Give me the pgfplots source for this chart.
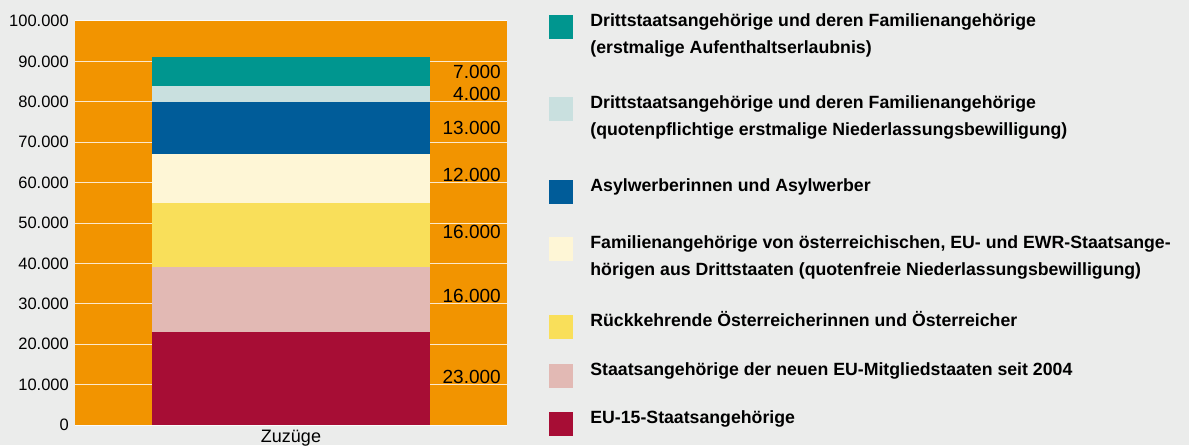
\documentclass[border=0pt]{standalone}
\usepackage{pgfplots}
\pgfplotsset{compat=1.18}
\usepackage{fontspec}
\setmainfont{Liberation Sans}
\definecolor{bgc}{RGB}{235,236,235}
\definecolor{orc}{RGB}{242,148,0}
\definecolor{c1}{RGB}{167,13,53}
\definecolor{c2}{RGB}{226,185,180}
\definecolor{c3}{RGB}{249,223,90}
\definecolor{c4}{RGB}{254,246,214}
\definecolor{c5}{RGB}{0,92,153}
\definecolor{c6}{RGB}{201,224,223}
\definecolor{c7}{RGB}{0,150,143}
\newcommand{\LE}[2]{\parbox[t]{600pt}{\raggedright\rule{0pt}{20pt}#2\rule[-#1pt]{0pt}{#1pt}}}
\begin{document}
\begin{tikzpicture}
\fill[bgc] (-75pt,-20pt) rectangle (1114pt,425pt);
\useasboundingbox (-75pt,-20pt) rectangle (1114pt,425pt);
\pgfplotsset{
  base/.style={width=432pt,height=404pt,scale only axis,xmin=-1,xmax=1,ymin=0,ymax=100000, at={(0pt,0pt)}, anchor=south west}
}
\begin{axis}[base,
  ybar stacked, bar width=277pt,
  axis background/.style={fill=orc},
  axis line style={draw=none}, tick style={draw=none},
  ymajorgrids, grid style={white, line width=1pt, opacity=0.8},
  ytick={0,10000,...,100000},
  scaled y ticks=false,
  /pgf/number format/assume math mode=true,
  yticklabel style={font=\fontsize{16.5}{18}\selectfont, inner sep=0pt, xshift=-6pt,
     /pgf/number format/fixed, /pgf/number format/1000 sep={.}},
  xtick={0}, xticklabels={Zuzüge},
  xticklabel style={font=\fontsize{18}{20}\selectfont, inner sep=0pt, yshift=-5pt, anchor=north},
  legend style={at={(axis description cs:1.0972,1.0359)}, anchor=north west, draw=none, fill=none,
     inner sep=0pt, outer sep=0pt, row sep=0pt, column sep=18pt,
     cells={anchor=base west},
     nodes={inner sep=0pt, text depth=, text height=, font=\bfseries\fontsize{17.7}{27.5}\selectfont}},
  legend image code/.code={\fill[#1] (0pt,-11.5pt) rectangle (23pt,11.5pt);},
]
\addlegendimage{c7}
\addlegendentry{\LE{34.5}{Drittstaatsangehörige und deren Familienangehörige\\(erstmalige Aufenthaltserlaubnis)}}
\addlegendimage{c6}
\addlegendentry{\LE{35.5}{Drittstaatsangehörige und deren Familienangehörige\\(quotenpflichtige erstmalige Niederlassungsbewilligung)}}
\addlegendimage{c5}
\addlegendentry{\LE{37}{Asylwerberinnen und Asylwerber}}
\addlegendimage{c4}
\addlegendentry{\LE{30.5}{Familienangehörige von österreichischen, EU- und EWR-Staatsange-\\hörigen aus Drittstaaten (quotenfreie Niederlassungsbewilligung)}}
\addlegendimage{c3}
\addlegendentry{\LE{29}{Rückkehrende Österreicherinnen und Österreicher}}
\addlegendimage{c2}
\addlegendentry{\LE{28}{Staatsangehörige der neuen EU-Mitgliedstaaten seit 2004}}
\addlegendimage{c1}
\addlegendentry{\LE{5}{EU-15-Staatsangehörige}}
\addplot[fill=c1, draw=none, forget plot] coordinates {(0,23000)};
\addplot[fill=c2, draw=none, forget plot] coordinates {(0,16000)};
\addplot[fill=c3, draw=none, forget plot] coordinates {(0,16000)};
\addplot[fill=c4, draw=none, forget plot] coordinates {(0,12000)};
\addplot[fill=c5, draw=none, forget plot] coordinates {(0,13000)};
\addplot[fill=c6, draw=none, forget plot] coordinates {(0,4000)};
\addplot[fill=c7, draw=none, forget plot] coordinates {(0,7000)};
\end{axis}
\begin{axis}[base, hide axis, clip=false]
\addplot[draw=none, mark=none, nodes near coords, point meta=explicit symbolic,
  nodes near coords style={anchor=east, inner sep=0pt, font=\fontsize{19}{20}\selectfont, text=black}]
  coordinates {(0.972,11800)[23.000] (0.972,32000)[16.000] (0.972,47800)[16.000] (0.972,62000)[12.000]
               (0.972,73500)[13.000] (0.972,82000)[4.000] (0.972,87500)[7.000]};
\end{axis}
\end{tikzpicture}
\end{document}
